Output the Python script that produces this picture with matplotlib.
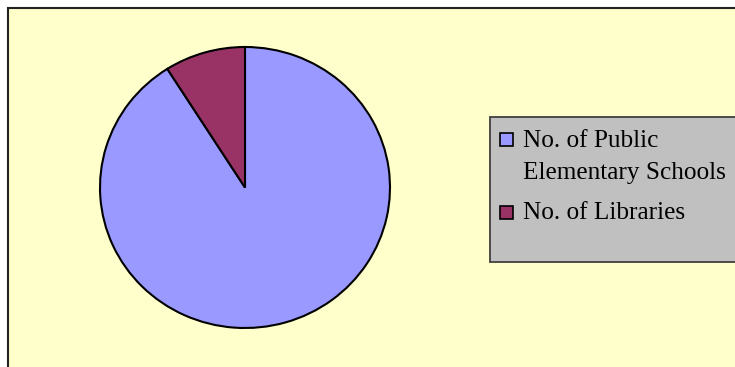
import matplotlib.pyplot as plt
from matplotlib.patches import Rectangle

# share of each category
labels = ["No. of Public\nElementary Schools", "No. of Libraries"]
values = [91, 9]
colors = ["#9999FF", "#993366"]

W, H = 735, 367
plt.rcParams["font.family"] = ["Liberation Serif", "DejaVu Serif"]

fig = plt.figure(figsize=(W / 100, H / 100), dpi=100, facecolor="white")

# background / frame / legend layer in pixel coordinates
bg = fig.add_axes([0, 0, 1, 1])
bg.set_xlim(0, W)
bg.set_ylim(H, 0)
bg.axis("off")
bg.add_patch(Rectangle((8, 8), W, H, facecolor="#FFFFCC", edgecolor="#222222", lw=1.5))

# pie layer, slightly squashed vertically like the original
k = 145 / 140.5
ax = fig.add_axes([0, 0, 1, 1])
ax.patch.set_alpha(0)
ax.pie(values, colors=colors, startangle=90, counterclock=False,
       center=(245, (H - 187.5) * k), radius=145,
       wedgeprops=dict(edgecolor="black", linewidth=1.5))
ax.set_aspect("auto")
ax.set_xlim(0, W)
ax.set_ylim(0, H * k)
ax.axis("off")

# legend box
bg.add_patch(Rectangle((490, 117), 260, 145, facecolor="#C0C0C0",
                       edgecolor="#404040", lw=1.3, zorder=3))
marker_y = [133, 206]
text_y = [146.7, 219]
for lab, col, my, ty in zip(labels, colors, marker_y, text_y):
    bg.add_patch(Rectangle((500, my), 13, 13, facecolor=col,
                           edgecolor="black", lw=1.2, zorder=4))
    lines = lab.split("\n")
    for i, line in enumerate(lines):
        bg.text(523, ty + i * 32.3, line, fontsize=18.2, va="baseline",
                ha="left", color="black", zorder=5)

fig.savefig("out.png", dpi=100, facecolor="white")
